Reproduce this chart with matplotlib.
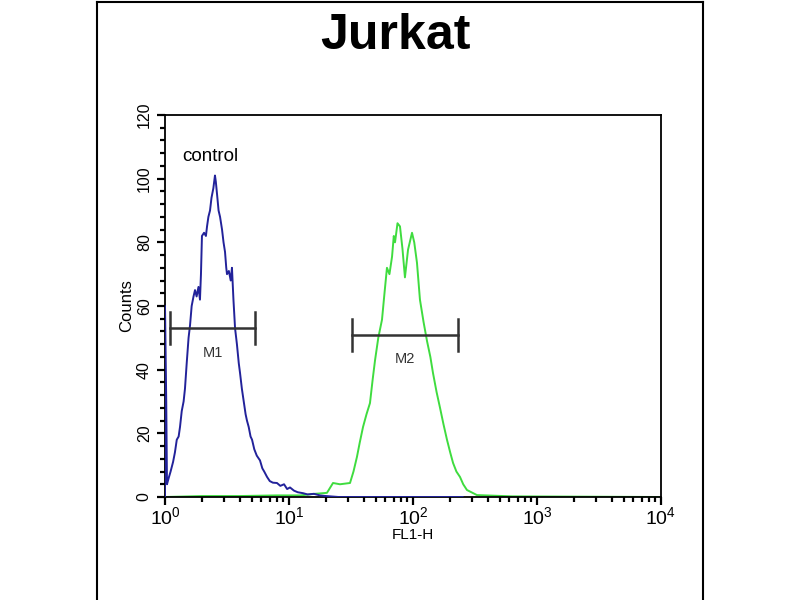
import matplotlib
matplotlib.use("Agg")
import matplotlib.pyplot as plt
import numpy as np
from matplotlib.lines import Line2D
from matplotlib.ticker import FixedLocator, LogLocator, NullFormatter

TITLE = "Jurkat"

# control histogram (blue): log10(FL1-H) channel position, counts
CONTROL_LOGX = [0.000, 0.000, 0.010, 0.016, 0.030, 0.045, 0.065, 0.080, 0.095, 0.110,
                0.121, 0.135, 0.150, 0.161, 0.175, 0.190, 0.202, 0.215, 0.230, 0.242,
                0.255, 0.270, 0.282, 0.290, 0.298, 0.315, 0.330, 0.339, 0.350, 0.363,
                0.375, 0.390, 0.403, 0.410, 0.420, 0.432, 0.444, 0.460, 0.472, 0.484,
                0.494, 0.500, 0.515, 0.530, 0.540, 0.552, 0.565, 0.580, 0.595, 0.605,
                0.620, 0.635, 0.650, 0.661, 0.675, 0.690, 0.702, 0.720, 0.740, 0.766,
                0.785, 0.800, 0.823, 0.845, 0.870, 0.903, 0.930, 0.960, 0.985, 1.008,
                1.040, 1.070, 1.113, 1.150, 1.200, 1.250, 1.300, 1.400, 2.400]
CONTROL_COUNTS = [0, 60, 30, 4, 6, 8, 11, 14, 18, 19,
                  22, 27, 30, 34, 42, 50, 54, 60, 63, 65,
                  63, 66, 62, 70, 82, 83, 82, 85, 88, 90,
                  94, 97, 101, 99, 95, 90, 88, 84, 80, 77,
                  72, 70, 71, 68, 72, 62, 53, 48, 42, 39,
                  34, 30, 26, 24, 22, 19, 18, 15, 13, 11.5,
                  9, 8, 6.3, 5, 4.5, 4.4, 3.5, 4, 2.5, 3,
                  2, 1.5, 1.2, 0.8, 1, 0.5, 0.3, 0, 0]

# sample histogram (green)
SAMPLE_LOGX = [0.000, 0.300, 0.600, 0.900, 1.089, 1.210, 1.306, 1.355, 1.411, 1.492,
               1.520, 1.548, 1.570, 1.597, 1.625, 1.653, 1.675, 1.694, 1.720, 1.750,
               1.770, 1.790, 1.810, 1.831, 1.845, 1.855, 1.875, 1.895, 1.915, 1.935,
               1.960, 1.992, 2.010, 2.032, 2.056, 2.085, 2.113, 2.140, 2.161, 2.190,
               2.218, 2.245, 2.274, 2.300, 2.323, 2.350, 2.379, 2.405, 2.435, 2.516,
               2.800, 4.000]
SAMPLE_COUNTS = [0, 0.3, 0.3, 0.5, 0.5, 1, 1.3, 4.4, 4, 4.4,
                 8, 12.6, 17, 22, 26, 29.5, 37, 43, 50, 55.7,
                 64, 72, 70, 75.5, 82, 80, 86, 85, 78, 69,
                 77.7, 83, 80, 73.6, 62, 55, 49, 44, 39, 33,
                 28, 23, 18, 14, 10.7, 8, 6.3, 4, 2.2, 0.6,
                 0.2, 0]

MARKER_NAMES = ["M1", "M2"]
MARKER_LO = [1.1, 32.0]
MARKER_HI = [5.3, 230.0]
MARKER_Y = [53, 51]

BLUE = "#22229a"
GREEN = "#3fdc3f"

plt.rcParams.update({"font.family": ["Liberation Sans", "DejaVu Sans"], "mathtext.fontset": "custom",
                     "mathtext.rm": "Liberation Sans"})

fig = plt.figure(figsize=(8, 6), dpi=100)
ax = fig.add_axes([165 / 800, 1 - 497 / 600, 496 / 800, 382 / 600])

ax.plot(10 ** np.array(SAMPLE_LOGX), SAMPLE_COUNTS, color=GREEN, linewidth=1.4, zorder=2)
ax.plot(10 ** np.array(CONTROL_LOGX), CONTROL_COUNTS, color=BLUE, linewidth=1.4, zorder=3)

for name, lo, hi, y in zip(MARKER_NAMES, MARKER_LO, MARKER_HI, MARKER_Y):
    ax.plot([lo, hi], [y, y], color="#333333", linewidth=1.8, zorder=4)
    ax.plot([lo, lo], [y - 5, y + 5], color="#333333", linewidth=1.8, zorder=4)
    ax.plot([hi, hi], [y - 5, y + 5], color="#333333", linewidth=1.8, zorder=4)
    ax.text(np.sqrt(lo * hi), y - 5.5, name, ha="center", va="top", fontsize=10.5, color="#333333")

ax.text(1.38, 107, "control", ha="left", va="center", fontsize=13.5)

ax.set_xscale("log")
ax.set_xlim(1, 1e4)
ax.set_ylim(0, 120)
ax.set_xticks([1, 10, 100, 1000, 10000])
ax.set_xticklabels([r"$10^{0}$", r"$10^{1}$", r"$10^{2}$", r"$10^{3}$", r"$10^{4}$"], fontsize=14)
ax.xaxis.set_minor_locator(LogLocator(base=10, subs=np.arange(2, 10)))
ax.xaxis.set_minor_formatter(NullFormatter())
ax.set_yticks([0, 20, 40, 60, 80, 100, 120])
ax.set_yticklabels(["0", "20", "40", "60", "80", "100", "120"], rotation=90, va="center", fontsize=11.5)
ax.yaxis.set_minor_locator(FixedLocator(np.arange(0, 121, 4)))
ax.tick_params(which="major", length=6, width=1.6, direction="out")
ax.tick_params(which="minor", length=3.5, width=1.6, direction="out")
ax.tick_params(axis="x", pad=1)
ax.set_xlabel("FL1-H", fontsize=11, labelpad=-1)
ax.set_ylabel("Counts", fontsize=12, labelpad=2)
for spine in ax.spines.values():
    spine.set_linewidth(1.3)

fig.text(395 / 800, 1 - 36 / 600, TITLE, ha="center", va="center", fontsize=36, fontweight="bold")

# outer frame
fig.add_artist(Line2D([97 / 800, 97 / 800], [0, 1 - 2 / 600], color="black", linewidth=1.5))
fig.add_artist(Line2D([703 / 800, 703 / 800], [0, 1 - 2 / 600], color="black", linewidth=1.5))
fig.add_artist(Line2D([97 / 800, 703 / 800], [1 - 2 / 600, 1 - 2 / 600], color="black", linewidth=1.5))

fig.savefig("out.png", dpi=100)
